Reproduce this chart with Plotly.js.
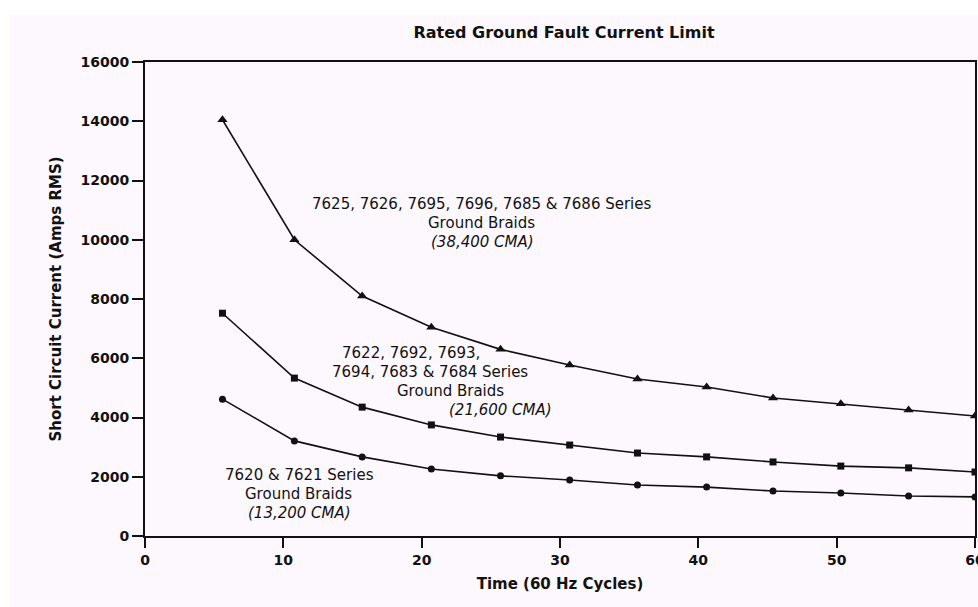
<!DOCTYPE html>
<html>
<head>
<meta charset="utf-8">
<script src="https://cdn.plot.ly/plotly-3.0.1.min.js"></script>
<style>html,body{margin:0;padding:0;background:#fff;}#chart{width:978px;height:607px;}</style>
</head>
<body>
<div id="chart"></div>
<script>
// Time (60 Hz cycles)
var cycles = [5.6, 10.8, 15.7, 20.7, 25.7, 30.7, 35.6, 40.6, 45.4, 50.3, 55.2, 60];
// 38,400 CMA braids
var braid38400 = [14050, 10000, 8100, 7050, 6300, 5770, 5300, 5030, 4660, 4460, 4250, 4050];
// 21,600 CMA braids
var braid21600 = [7520, 5330, 4350, 3750, 3340, 3070, 2800, 2670, 2500, 2360, 2300, 2160];
// 13,200 CMA braids
var braid13200 = [4620, 3210, 2670, 2260, 2030, 1890, 1720, 1650, 1520, 1450, 1350, 1320];

var yTicks = [0, 2000, 4000, 6000, 8000, 10000, 12000, 14000, 16000];
var xTicks = [0, 10, 20, 30, 40, 50, 60];

var label38400 = ['7625, 7626, 7695, 7696, 7685 & 7686 Series', 'Ground Braids', '(38,400 CMA)'];
var label21600 = ['7622, 7692, 7693,', '7694, 7683 & 7684 Series', 'Ground Braids', '(21,600 CMA)'];
var label13200 = ['7620 & 7621 Series', 'Ground Braids', '(13,200 CMA)'];

var W = 978, H = 607, L = 145, R = 3, T = 62, B = 71;
var pw = W - L - R, ph = H - T - B;
function px(x) { return (x - L) / pw; }
function py(y) { return (H - B - y) / ph; }

var font = 'DejaVu Sans, Verdana, sans-serif';

function series(name, y, sym, size) {
  return {
    x: cycles, y: y, name: name, type: 'scatter', mode: 'lines+markers',
    line: {color: '#111', width: 1.6},
    marker: {symbol: sym, size: size, color: '#111'},
    hoverinfo: 'x+y'
  };
}

var data = [
  series('38,400 CMA', braid38400, 'triangle-up', 9),
  series('21,600 CMA', braid21600, 'square', 7),
  series('13,200 CMA', braid13200, 'circle', 7)
];

function lineAnn(text, cx, cy, italic) {
  return {
    xref: 'paper', yref: 'paper', x: px(cx), y: py(cy),
    xanchor: 'center', yanchor: 'middle', showarrow: false,
    text: text,
    font: {family: font, size: 15, color: '#111', style: italic ? 'italic' : 'normal'}
  };
}

var annotations = [
  lineAnn(label38400[0], 482, 204),
  lineAnn(label38400[1], 481, 223),
  lineAnn(label38400[2], 482, 242, true),
  lineAnn(label21600[0], 411, 353),
  lineAnn(label21600[1], 430, 372),
  lineAnn(label21600[2], 450, 391),
  lineAnn(label21600[3], 500, 410, true),
  lineAnn(label13200[0], 299, 475),
  lineAnn(label13200[1], 298, 494),
  lineAnn(label13200[2], 299, 513, true)
];

var layout = {
  width: W, height: H,
  margin: {l: L, r: R, t: T, b: B},
  paper_bgcolor: '#ffffff',
  plot_bgcolor: 'rgba(0,0,0,0)',
  showlegend: false,
  title: {
    text: '<b>Rated Ground Fault Current Limit</b>',
    x: 564 / W, xanchor: 'center', y: 1 - 32 / H, yanchor: 'middle',
    font: {family: font, size: 16, color: '#111'}
  },
  xaxis: {
    range: [0, 60], tickvals: xTicks, ticktext: xTicks.map(String),
    ticklabeloverflow: 'allow',
    showgrid: false, zeroline: false,
    showline: true, linecolor: '#111', linewidth: 2, mirror: true,
    ticks: 'outside', ticklen: 10, tickwidth: 1.5, tickcolor: '#111',
    tickfont: {family: font, size: 14, color: '#111', weight: 'bold'},
    title: {text: '<b>Time (60 Hz Cycles)</b>', standoff: 12, font: {family: font, size: 15, color: '#111'}}
  },
  yaxis: {
    range: [0, 16000], tickvals: yTicks, ticktext: yTicks.map(String),
    showgrid: false, zeroline: false,
    showline: true, linecolor: '#111', linewidth: 2, mirror: true,
    ticks: 'outside', ticklen: 11, tickwidth: 1.5, tickcolor: '#111',
    tickfont: {family: font, size: 14, color: '#111', weight: 'bold'},
    title: {text: '<b>Short Circuit Current (Amps RMS)</b>', standoff: 15, font: {family: font, size: 15, color: '#111'}}
  },
  shapes: [{
    type: 'rect', xref: 'paper', yref: 'paper', layer: 'below',
    x0: px(10), x1: px(978), y0: py(15), y1: py(607),
    fillcolor: '#fdf8fd', line: {width: 0}
  }],
  annotations: annotations
};

Plotly.newPlot('chart', data, layout, {displayModeBar: false});
</script>
</body>
</html>
